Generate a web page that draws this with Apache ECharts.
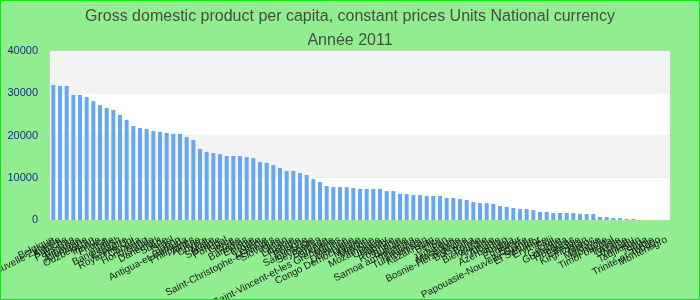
<!DOCTYPE html>
<html>
<head>
<meta charset="utf-8">
<script src="https://cdn.jsdelivr.net/npm/echarts@6/dist/echarts.min.js"></script>
<style>html,body{margin:0;padding:0;background:#90ee90;}#c{width:700px;height:300px;}</style>
</head>
<body>
<div id="c"></div>
<script>
const titleText = 'Gross domestic product per capita, constant prices Units National currency';
const subtitleText = 'Année 2011';
const categories = [
  'Belgique','Nouvelle-Zélande','Autriche','Pays-Bas','Finlande','Allemagne','Ouzbékistan','Irlande','France','Italie',
  'Bangladesh','Espagne','Royaume-Uni','Canada','Hong Kong','Islande','Danemark','Suède','Israël','Japon',
  'Antigua-et-Barbuda','Philippines','Algérie','Chypre','Malte','Slovénie','Portugal','Grèce','Corée','Bahamas',
  'Estonie','Croatie','Lettonie','Saint-Christophe-et-Niévès','Slovaquie','Oman','Lituanie','Hongrie','Pologne','Sainte-Lucie',
  'Seychelles','Barbade','Grenade','Saint-Vincent-et-les Grenadines','Maurice','Dominique','Congo Démocratique','Malaisie','Mexique','Mozambique',
  'Uruguay','Namibie','Roumanie','Bulgarie','Samoa américaines','Thaïlande','Turkménistan','Kazakhstan','Belize','Liban',
  'Jamaïque','Macédoine','Bosnie-Herzégovine','Botswana','Bolivie','Biélorussie','Arménie','Albanie','Azerbaïdjan','Angola',
  'Équateur','Égypte','Papouasie-Nouvelle-Guinée','El Salvador','Érythrée','Fidji','Géorgie','Guatemala','Honduras','Éthiopie',
  'Kirghizistan','Maroc','Moldavie','Mongolie','Timor oriental','Tunisie','Ukraine','Vanuatu','Tadjikistan','Tonga',
  'Serbie','Trinité-et-Tobago','Monténégro'
];
const values = [
  31950,31700,31700,29600,29600,29100,28150,27200,26500,26000,
  24850,23650,22250,21800,21550,21050,20850,20600,20350,20350,
  19650,18950,16800,16100,15850,15600,15150,15150,15150,14900,
  14650,13750,13500,13000,12300,11600,11600,11100,10650,9700,
  9000,8050,7800,7800,7800,7550,7350,7350,7350,7350,
  6850,6850,6150,6150,5900,5900,5700,5700,5700,5200,
  5200,4950,4750,4250,4000,4000,3800,3300,3100,2850,
  2600,2600,2350,1900,1900,1650,1650,1650,1650,1400,
  1400,1400,700,700,450,450,250,250,null,null,
  null,null,null
];
const yMin = 0, yMax = 40000, yStep = 10000;

const chart = echarts.init(document.getElementById('c'), null, {renderer:'canvas'});
chart.setOption({
  animation: false,
  backgroundColor: '#90ee90',
  title: {
    text: titleText, subtext: subtitleText, left: 'center', top: 4, itemGap: 8,
    textStyle: {fontSize: 16, fontWeight: 'normal', color: '#4a4a4a', fontFamily: 'Liberation Sans'},
    subtextStyle: {fontSize: 16, color: '#4a4a4a', fontFamily: 'Liberation Sans'}
  },
  grid: {left: 50, right: 30, top: 51, bottom: 80, containLabel: false, outerBoundsMode: 'none',
         show: true, borderColor: '#cccccc', borderWidth: 1, backgroundColor: 'transparent'},
  xAxis: {
    type: 'category', data: categories,
    axisLine: {show: false}, axisTick: {show: false},
    axisLabel: {interval: 0, rotate: 27, fontSize: 10, color: '#1a1a1a', fontFamily: 'Liberation Sans',
                margin: 19, hideOverlap: false}
  },
  yAxis: {
    type: 'value', min: yMin, max: yMax, interval: yStep,
    axisLine: {show: false}, axisTick: {show: false},
    splitLine: {show: false},
    splitArea: {show: true, areaStyle: {color: ['#ffffff', '#f3f3f3']}},
    axisLabel: {color: '#1f1f99', fontSize: 11, fontFamily: 'Liberation Sans', margin: 12, formatter: function (v) { return String(v); }}
  },
  series: [{type: 'bar', data: values, barWidth: '60%', itemStyle: {color: '#64a8f2'}}],
  graphic: [{type: 'rect', z: 100, silent: true, shape: {x: 0.5, y: 0.5, width: 699, height: 299}, style: {fill: 'none', stroke: '#00ee00', lineWidth: 1}}]
});
</script>
</body>
</html>
